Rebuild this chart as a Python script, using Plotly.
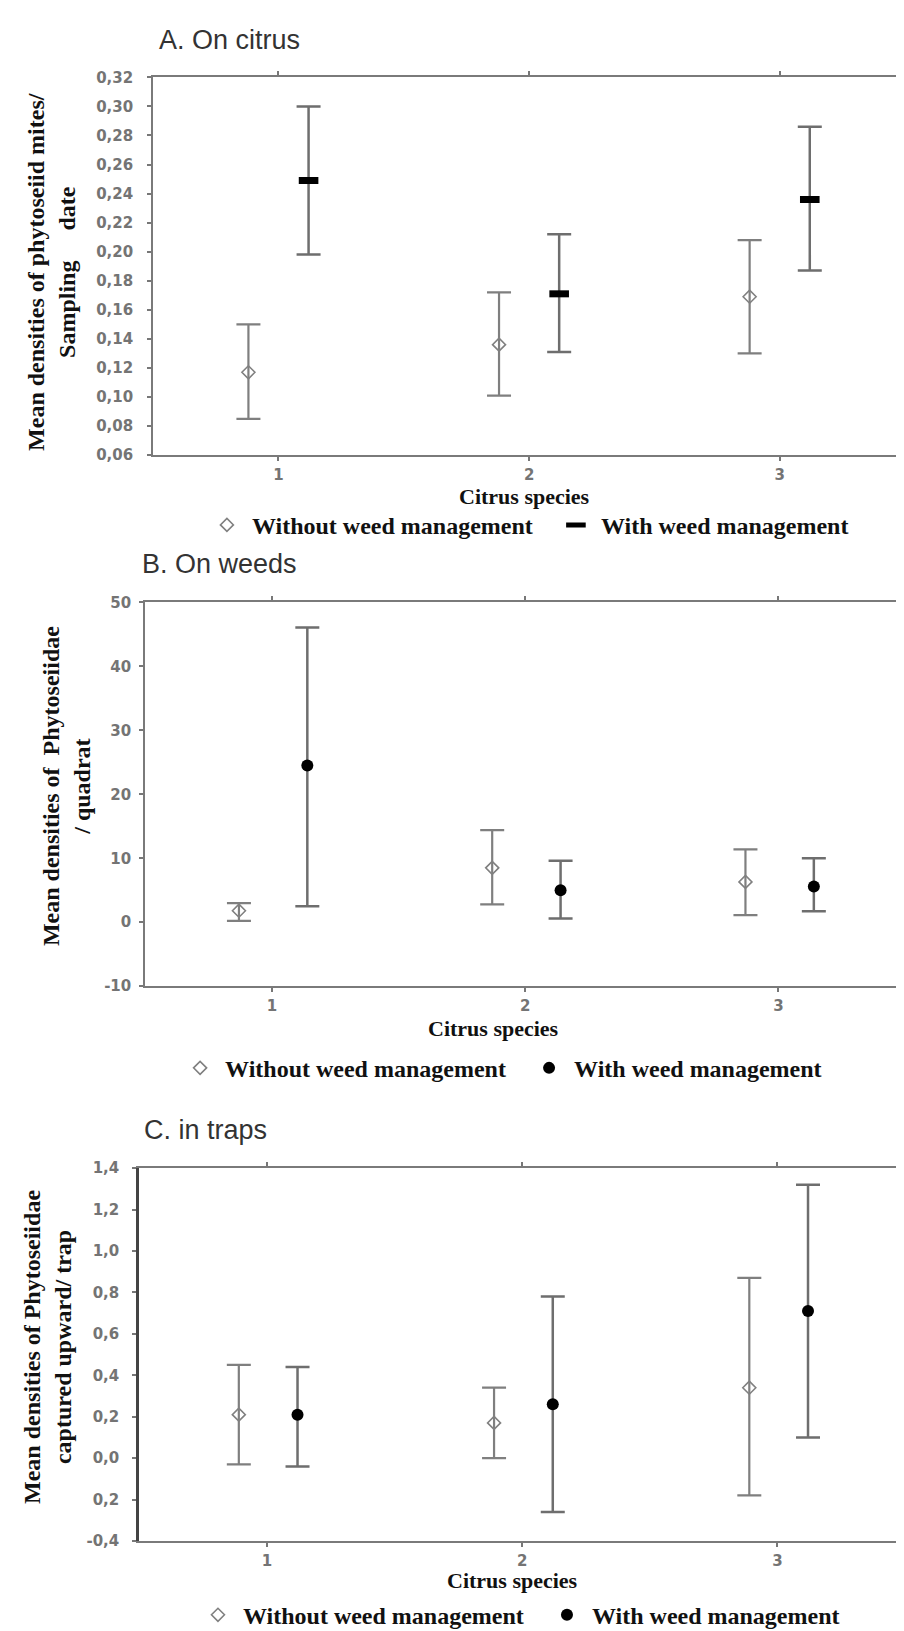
import plotly.graph_objects as go
import numpy as np

W, H = 904, 1631

species = [1, 2, 3]
species_labels = ["1", "2", "3"]

# A. On citrus
citrus_without_mean = [0.117, 0.136, 0.169]
citrus_without_low = [0.085, 0.101, 0.130]
citrus_without_high = [0.150, 0.172, 0.208]
citrus_with_mean = [0.249, 0.171, 0.236]
citrus_with_low = [0.198, 0.131, 0.187]
citrus_with_high = [0.300, 0.212, 0.286]
citrus_yticks = [0.06, 0.08, 0.10, 0.12, 0.14, 0.16, 0.18, 0.20, 0.22, 0.24, 0.26, 0.28, 0.30, 0.32]
citrus_yticktext = ["0,06", "0,08", "0,10", "0,12", "0,14", "0,16", "0,18", "0,20",
                    "0,22", "0,24", "0,26", "0,28", "0,30", "0,32"]

# B. On weeds
weeds_without_mean = [1.8, 8.5, 6.3]
weeds_without_low = [0.2, 2.8, 1.1]
weeds_without_high = [3.0, 14.4, 11.4]
weeds_with_mean = [24.5, 5.0, 5.6]
weeds_with_low = [2.5, 0.6, 1.7]
weeds_with_high = [46.1, 9.6, 10.0]
weeds_yticks = [-10, 0, 10, 20, 30, 40, 50]
weeds_yticktext = ["-10", "0", "10", "20", "30", "40", "50"]

# C. in traps
traps_without_mean = [0.21, 0.17, 0.34]
traps_without_low = [-0.03, 0.0, -0.18]
traps_without_high = [0.45, 0.34, 0.87]
traps_with_mean = [0.21, 0.26, 0.71]
traps_with_low = [-0.04, -0.26, 0.10]
traps_with_high = [0.44, 0.78, 1.32]
traps_yticks = [-0.4, -0.2, 0.0, 0.2, 0.4, 0.6, 0.8, 1.0, 1.2, 1.4]
traps_yticktext = ["-0,4", "0,2", "0,0", "0,2", "0,4", "0,6", "0,8", "1,0", "1,2", "1,4"]

legend_names = ["Without weed management", "With weed management"]


def px(x):
    return x / W


def py(y):
    return 1 - y / H


def err(mean, low, high):
    mean, low, high = np.array(mean), np.array(low), np.array(high)
    return high - mean, mean - low


fig = go.Figure()

panels = [
    # means/lows/highs, axis suffix, legend, offsets, with-marker
    (citrus_without_mean, citrus_without_low, citrus_without_high,
     citrus_with_mean, citrus_with_low, citrus_with_high, "", "legend", (-0.12, 0.12),
     dict(symbol="line-ew", size=14, color="black", line=dict(width=7, color="black"))),
    (weeds_without_mean, weeds_without_low, weeds_without_high,
     weeds_with_mean, weeds_with_low, weeds_with_high, "2", "legend2", (-0.13, 0.14),
     dict(symbol="circle", size=12, color="black")),
    (traps_without_mean, traps_without_low, traps_without_high,
     traps_with_mean, traps_with_low, traps_with_high, "3", "legend3", (-0.11, 0.12),
     dict(symbol="circle", size=12, color="black")),
]

for wo_m, wo_l, wo_h, wi_m, wi_l, wi_h, sfx, leg, offs, with_marker in panels:
    up, down = err(wo_m, wo_l, wo_h)
    fig.add_trace(go.Scatter(
        x=np.array(species) + offs[0], y=wo_m, mode="markers",
        name=legend_names[0], legend=leg,
        xaxis="x" + sfx, yaxis="y" + sfx,
        marker=dict(symbol="diamond-open", size=10, color="#808080", line=dict(width=1.6, color="#808080")),
        error_y=dict(type="data", symmetric=False, array=up, arrayminus=down,
                     color="#7f7f7f", thickness=2.2, width=12),
    ))
    up, down = err(wi_m, wi_l, wi_h)
    fig.add_trace(go.Scatter(
        x=np.array(species) + offs[1], y=wi_m, mode="markers",
        name=legend_names[1], legend=leg,
        xaxis="x" + sfx, yaxis="y" + sfx,
        marker=with_marker,
        error_y=dict(type="data", symmetric=False, array=up, arrayminus=down,
                     color="#6e6e6e", thickness=2.5, width=12),
    ))

tick_font = dict(family="DejaVu Sans", size=15, color="#747474", weight="bold")
serif_bold = dict(family="Liberation Serif", size=24, color="#111111", weight="bold")
xtitle_font = dict(family="Liberation Serif", size=22, color="#111111", weight="bold")


def xaxis(left, anchor):
    return dict(domain=[px(left), px(902)], anchor=anchor, range=[0.5, 3.5],
                tickvals=species, ticktext=species_labels, ticks="outside", ticklen=4,
                tickwidth=2, tickcolor="#777", showline=True, linecolor="#7a7a7a", linewidth=2,
                mirror="ticks", showgrid=False, zeroline=False, tickfont=tick_font,
                ticklabelstandoff=1, fixedrange=True)


def yaxis(top, bottom, rng, vals, text, anchor, standoff, lc="#7a7a7a", lw=2):
    return dict(domain=[py(bottom), py(top)], anchor=anchor, range=rng,
                tickvals=vals, ticktext=text, ticks="outside", ticklen=4, tickwidth=2,
                tickcolor="#777", showline=True, linecolor=lc, linewidth=lw,
                mirror="ticks", showgrid=False, zeroline=False, tickfont=tick_font,
                ticklabelstandoff=standoff, fixedrange=True)


fig.update_layout(
    width=W, height=H, margin=dict(l=0, r=0, t=0, b=0),
    plot_bgcolor="white", paper_bgcolor="white",
    xaxis=xaxis(146, "y"),
    yaxis=yaxis(61, 443, [0.06, 0.32], citrus_yticks, citrus_yticktext, "x", 11),
    xaxis2=xaxis(138, "y2"),
    yaxis2=yaxis(592, 980, [-10, 50], weeds_yticks, weeds_yticktext, "x2", 5),
    xaxis3=xaxis(132, "y3"),
    yaxis3=yaxis(1164, 1541, [-0.4, 1.4], traps_yticks, traps_yticktext, "x3", 10,
                 lc="#444444", lw=3),
)

legend_style = dict(orientation="h", xanchor="left", yanchor="middle",
                    font=dict(family="Liberation Serif", size=24, color="#111111", weight="bold"),
                    itemwidth=40, entrywidthmode="pixels", entrywidth=294,
                    bgcolor="rgba(0,0,0,0)")
fig.update_layout(
    legend=dict(x=px(195), y=py(514), **legend_style),
    legend2=dict(x=px(168), y=py(1063), **legend_style),
    legend3=dict(x=px(186), y=py(1616), **legend_style),
)

title_font = dict(family="Liberation Sans", size=27, color="#333333")
annotations = [
    dict(text="A. On citrus", x=px(150), y=py(23), xanchor="left", yanchor="middle", font=title_font),
    dict(text="B. On weeds", x=px(133), y=py(553), xanchor="left", yanchor="middle", font=title_font),
    dict(text="C. in traps", x=px(135), y=py(1125), xanchor="left", yanchor="middle", font=title_font),
    dict(text="Citrus species", x=px(519), y=py(485), font=xtitle_font),
    dict(text="Citrus species", x=px(488), y=py(1023), font=xtitle_font),
    dict(text="Citrus species", x=px(507), y=py(1581), font=xtitle_font),
    dict(text="Mean densities of phytoseiid mites/<br>Sampling\u00a0\u00a0\u00a0\u00a0\u00a0date",
         x=px(43), y=py(258), textangle=-90, font=serif_bold),
    dict(text="Mean densities of\u00a0\u00a0Phytoseiidae<br>/ quadrat",
         x=px(59), y=py(778), textangle=-90, font=serif_bold),
    dict(text="Mean densities of Phytoseiidae<br>captured upward/ trap",
         x=px(39), y=py(1345), textangle=-90, font=serif_bold),
]
for a in annotations:
    a.setdefault("xanchor", "center")
    a.setdefault("yanchor", "middle")
    fig.add_annotation(xref="paper", yref="paper", showarrow=False, **a)

fig.write_html("out.html")
